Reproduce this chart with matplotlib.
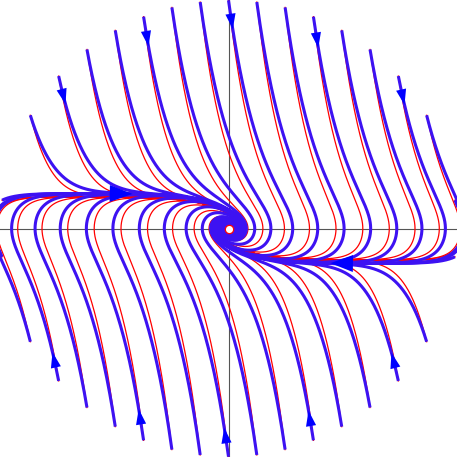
import numpy as np
import matplotlib
matplotlib.use("Agg")
import matplotlib.pyplot as plt

# starting points lie on a circle of radius sqrt(65): x = -8 .. 8
x_start = [-8, -7, -6, -5, -4, -3, -2, -1, 0, 1, 2, 3, 4, 5, 6, 7, 8]
r_start = np.sqrt(65.0)

# x' = y ,  y' = -G tanh(x / s) - c y |y|
blue_par = dict(G=1.38, s=1.8, c=0.9)
red_par = dict(G=1.38, s=1.8, c=1.1)

# which starting x get a small arrow (top and bottom)
arrow_x = [-6, -3, 0, 3, 6]

T_END = 40.0
DT = 0.005


def field(x, y, G, s, c):
    return y, -G * np.tanh(x / s) - c * y * np.abs(y)


def integrate(x0, y0, par):
    n = int(T_END / DT)
    xs = np.empty((n + 1, len(x0)))
    ys = np.empty((n + 1, len(x0)))
    x = np.array(x0, float)
    y = np.array(y0, float)
    xs[0], ys[0] = x, y
    h = DT
    for i in range(n):
        k1x, k1y = field(x, y, **par)
        k2x, k2y = field(x + h / 2 * k1x, y + h / 2 * k1y, **par)
        k3x, k3y = field(x + h / 2 * k2x, y + h / 2 * k2y, **par)
        k4x, k4y = field(x + h * k3x, y + h * k3y, **par)
        x = x + h / 6 * (k1x + 2 * k2x + 2 * k3x + k4x)
        y = y + h / 6 * (k1y + 2 * k2y + 2 * k3y + k4y)
        xs[i + 1], ys[i + 1] = x, y
    return xs, ys


xa = np.array(x_start, float)
ya = np.sqrt(r_start ** 2 - xa ** 2)
x0 = np.concatenate([xa, xa])
y0 = np.concatenate([ya, -ya])

bx, by = integrate(x0, y0, blue_par)
rx, ry = integrate(x0, y0, red_par)

BLUE = "#3d12f2"
ARROW = "#0000ff"
RED = "#ff0000"


def head(ax, xs, ys, i, length, half):
    # triangle with its tip at point i, pointing along the curve
    j = max(i - 5, 0)
    d = np.array([xs[i] - xs[j], ys[i] - ys[j]])
    d = d / np.hypot(*d)
    nrm = np.array([-d[1], d[0]])
    tip = np.array([xs[i], ys[i]])
    base = tip - length * d
    pts = np.array([tip, base + half * nrm, base - half * nrm])
    ax.fill(pts[:, 0], pts[:, 1], color=ARROW, lw=0, zorder=4)


fig = plt.figure(figsize=(4.57, 4.57), dpi=100)
ax = fig.add_axes([0, 0, 1, 1])
lim = r_start + 0.01
ax.set_xlim(-lim, lim)
ax.set_ylim(-lim, lim)
ax.set_aspect("equal")
ax.axis("off")

ax.axhline(0, color="#555555", lw=0.8, zorder=1)
ax.axvline(0, color="#555555", lw=0.8, zorder=1)

for j in range(len(x0)):
    ax.plot(rx[:, j], ry[:, j], color=RED, lw=0.9, zorder=2)
for j in range(len(x0)):
    ax.plot(bx[:, j], by[:, j], color=BLUE, lw=2.2, zorder=3,
            solid_capstyle="butt")

# small arrows about one unit along the curve
n = len(x_start)
for j in range(len(x0)):
    if x0[j] in arrow_x:
        s = np.concatenate([[0], np.cumsum(np.hypot(np.diff(bx[:, j]), np.diff(by[:, j])))])
        i = np.searchsorted(s, 1.0)
        head(ax, bx[:, j], by[:, j], i, 0.55, 0.18)

# big arrows on the flat part
jl = 0          # top, x = -8
jr = 2 * n - 1  # bottom, x = 8
il = np.argmax(bx[:, jl] >= -3.4)
ir = np.argmax(bx[:, jr] <= 3.6)
head(ax, bx[:, jl], by[:, jl], il, 0.8, 0.3)
head(ax, bx[:, jr], by[:, jr], ir, 0.8, 0.3)

ax.plot([0], [0], "o", ms=6, mfc="white", mec=RED, mew=0.9, zorder=5)

fig.savefig("out.png", dpi=100)
